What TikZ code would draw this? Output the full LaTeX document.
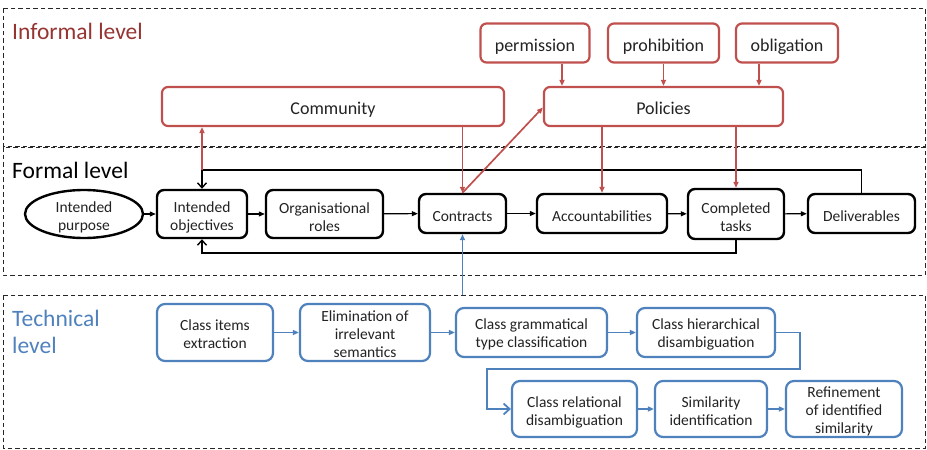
\documentclass[tikz,border=0pt]{standalone}
\usepackage{fontspec}
\setmainfont{Carlito}
\usetikzlibrary{arrows.meta,shapes.geometric}
\definecolor{pred}{RGB}{192,80,77}
\definecolor{plabel}{RGB}{150,52,50}
\definecolor{pblue}{RGB}{79,129,189}
\definecolor{ptext}{RGB}{35,35,35}

\begin{document}
\begin{tikzpicture}[x=1pt,y=-1pt,
  levelbox/.style={draw=black!85, line width=0.9pt, dash pattern=on 4.5pt off 3pt},
  levellabel/.style={font=\fontsize{23.5}{27}\selectfont, anchor=west, inner sep=0pt, align=left},
  % an invisible strut beside the text sets it a little below the middle of its box
  lift/.style={execute at begin node={\rule{0pt}{#1pt}}},
  redbox/.style={draw=pred, line width=2.2pt, rounded corners=6pt, fill=white, text=ptext,
    font=\fontsize{18}{20}\selectfont, inner sep=0pt, text depth=4pt, lift=20.5},
  formbox/.style={draw=black, line width=2.4pt, rounded corners=7pt, fill=white, text=ptext,
    font=\fontsize{15.5}{18}\selectfont, align=center, inner sep=0pt},
  single/.style={text depth=3.5pt, lift=19},
  twoline/.style={lift=35},
  techbox/.style={draw=pblue, line width=2.2pt, rounded corners=8pt, fill=white, text=ptext,
    font=\fontsize{15.5}{18}\selectfont, align=center, inner sep=0pt, lift=33},
  flow/.style={draw=black, line width=1.1pt, -{Triangle[length=6pt,width=5pt]}},
  feedback/.style={draw=black, line width=1.1pt, -{Straight Barb[length=5pt,width=9pt,line width=1.4pt]}},
  redflow/.style={draw=pred, line width=1.7pt, -{Triangle[length=6pt,width=5pt]}},
  blueflow/.style={draw=pblue, line width=1.7pt, -{Triangle[length=6pt,width=5pt]}},
  bluewrap/.style={draw=pblue, line width=1.8pt, -{Straight Barb[length=6pt,width=11pt,line width=1.8pt]}}
]
\useasboundingbox (0,0) rectangle (927,450);

% the three levels
\draw[levelbox] (3,8) rectangle (925,146);
\draw[levelbox] (3,147) rectangle (925,275);
\draw[levelbox] (3,295) rectangle (925,448);
\node[levellabel, text=plabel] (lblinf) at (12,31) {Informal level};
\node[levellabel, text=black] (lblform) at (12,170) {Formal level};
\node[levellabel, text=pblue] (lbltech) at (12,331.5) {Technical\\level};

% informal level
\node[redbox, minimum width=109, minimum height=39] (perm) at (535,43) {permission};
\node[redbox, minimum width=111, minimum height=39] (prohib) at (663.5,43) {prohibition};
\node[redbox, minimum width=102, minimum height=39] (oblig) at (787,43) {obligation};
\node[redbox, minimum width=239, minimum height=39] (pol) at (663.5,106.5) {Policies};
\node[redbox, minimum width=342, minimum height=39] (comm) at (333,106.5) {Community};

% formal level
\node[ellipse, draw=black, line width=2.4pt, fill=white, text=ptext, inner sep=-3pt,
  font=\fontsize{15.5}{18}\selectfont, align=center, minimum width=118, minimum height=48,
  twoline] (purp) at (84,214) {Intended\\purpose};
\node[formbox, twoline, minimum width=90, minimum height=48] (obj) at (202,214) {Intended\\objectives};
\node[formbox, twoline, minimum width=117, minimum height=48] (roles) at (324.5,214) {Organisational\\roles};
\node[formbox, single, minimum width=87, minimum height=39] (contr) at (462.5,213.5) {Contracts};
\node[formbox, single, minimum width=130, minimum height=39] (acc) at (602,213.5) {Accountabilities};
\node[formbox, twoline, minimum width=96, minimum height=50] (comp) at (736,214) {Completed\\tasks};
\node[formbox, single, minimum width=107, minimum height=39] (deliv) at (861.5,213.5) {Deliverables};

% technical level
\node[techbox, minimum width=116, minimum height=57] (items) at (215,332.5) {Class items\\extraction};
\node[techbox, lift=51, minimum width=130, minimum height=57] (elim) at (365,332.5) {Elimination of\\irrelevant\\semantics};
\node[techbox, minimum width=151, minimum height=49] (gram) at (531.5,332.5) {Class grammatical\\type classification};
\node[techbox, minimum width=138, minimum height=49] (hier) at (706,332.5) {Class hierarchical\\disambiguation};
\node[techbox, lift=35, minimum width=125, minimum height=56] (rel) at (574.5,409) {Class relational\\disambiguation};
\node[techbox, minimum width=112, minimum height=56] (simil) at (711,409) {Similarity\\identification};
\node[techbox, lift=51, minimum width=116, minimum height=56] (refin) at (844,409) {Refinement\\of identified\\similarity};

% formal chain
\draw[flow] (purp) -- (obj);
\draw[flow] (obj) -- (roles);
\draw[flow] (roles) -- (contr);
\draw[flow] (contr) -- (acc);
\draw[flow] (acc) -- (comp);
\draw[flow] (comp) -- (deliv);
\coordinate (fbtop) at (obj.north |- 0,170);
\draw[feedback] (deliv.north) -- (deliv.north |- fbtop) -- (fbtop) -- (obj.north);
\draw[feedback] (comp.south) -- (comp.south |- 0,253) -| (obj.south);

% informal connectors
\draw[redflow] ([xshift=27pt]perm.south) -- ([xshift=27pt]perm.south |- pol.north);
\draw[redflow] (prohib.south) -- (prohib.south |- pol.north);
\draw[redflow] ([xshift=-28pt]oblig.south) -- ([xshift=-28pt]oblig.south |- pol.north);
\draw[redflow] (fbtop) -- (fbtop |- comm.south);
\draw[redflow] (comm.south -| contr.north) -- (contr.north);
\draw[redflow] (contr.north) -- ([yshift=-1pt]pol.west);
\draw[redflow] (pol.south -| acc.north) -- (acc.north);
\draw[redflow] (pol.south -| comp.north) -- (comp.north);

% technical chain
\coordinate (techtop) at (462.5,295);
\draw[blueflow] (techtop) -- (contr.south);
\draw[blueflow] (items) -- (elim);
\draw[blueflow] (elim) -- (gram);
\draw[blueflow] (gram) -- (hier);
\coordinate (wrapA) at (800,369);
\coordinate (wrapB) at (487,369);
\draw[bluewrap] (hier.east) -| (wrapA) -- (wrapB) |- (rel.west);
\draw[blueflow] (rel) -- (simil);
\draw[blueflow] (simil) -- (refin);
\end{tikzpicture}
\end{document}
